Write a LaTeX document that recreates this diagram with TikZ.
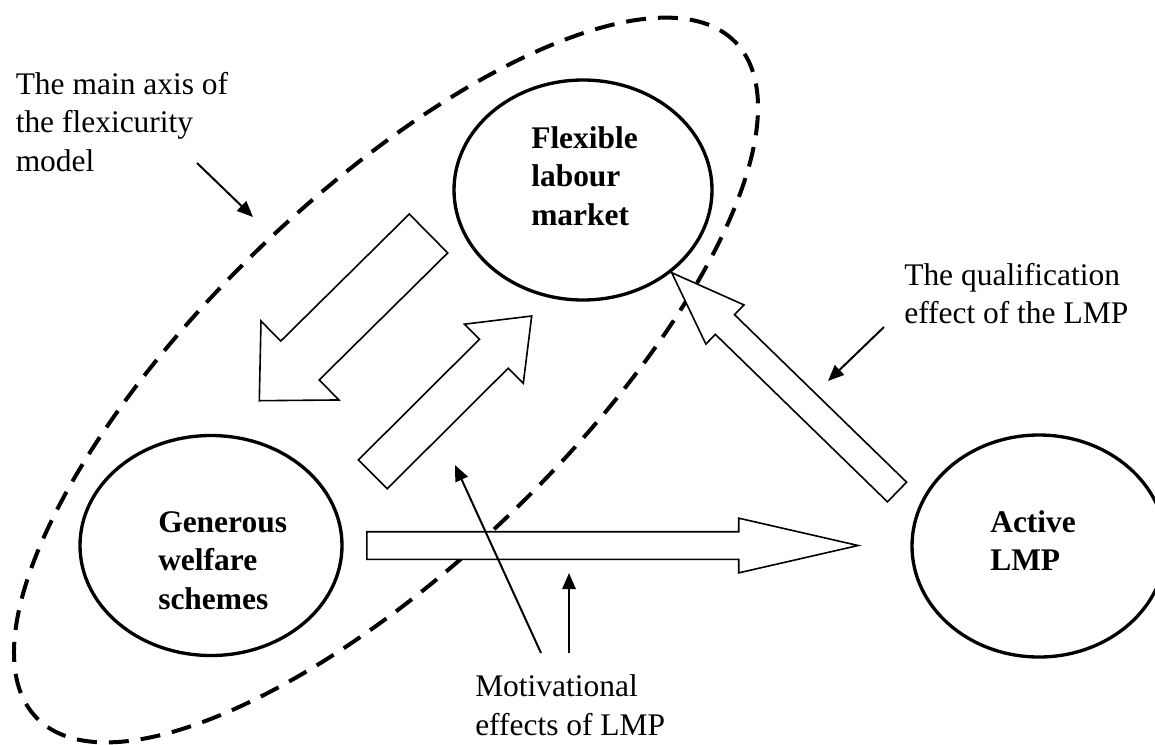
\documentclass[tikz,border=0pt]{standalone}
\usepackage{fontspec}
\setmainfont{Liberation Serif}
\usetikzlibrary{shapes.geometric,arrows.meta,calc}
\newcommand\drawblockarrow[5]{%
  \coordinate (#1h) at ($(#2)!#5!(#1)$);
  \draw[blockarr] ($(#1)!#3!90:(#2)$) -- ($(#1h)!#3!90:(#2)$) -- ($(#1h)!#4!90:(#2)$) -- (#2)
    -- ($(#1h)!#4!-90:(#2)$) -- ($(#1h)!#3!-90:(#2)$) -- ($(#1)!#3!-90:(#2)$) -- cycle;}
\begin{document}
\begin{tikzpicture}[x=0.75pt,y=-0.75pt,
  txt/.style={font=\fontsize{23.6pt}{29pt}\selectfont, inner sep=0pt, anchor=base west},
  boldtxt/.style={font=\fontsize{23.6pt}{29pt}\selectfont\bfseries, inner sep=0pt, anchor=base west},
  oval/.style={ellipse, draw, line width=2.5pt, fill=white, inner sep=0pt},
  axisline/.style={draw, line width=3pt, dash pattern=on 15pt off 9pt},
  blockarr/.style={draw, line width=1.2pt, fill=white, line join=miter},
  pointer/.style={draw, line width=1.5pt, -{Triangle[length=12pt,width=10pt]}}
]
\clip (0,0) rectangle (1155,744);
\fill[white] (0,0) rectangle (1155,744);

% main axis (dashed ellipse)
\draw[axisline, rotate around={44:(386,380)}] (386,380) ellipse [x radius=364.5pt, y radius=137pt];

% ellipses
\node[oval, minimum width=193.5pt, minimum height=165pt] (flex) at (583,190) {};
\node[oval, minimum width=196.5pt, minimum height=165pt] (gen) at (211,545.5) {};
\node[oval, minimum width=190.5pt, minimum height=166.5pt] (act) at (1039,546) {};

% block arrows
\coordinate (dlA) at (428.5,233.5); \coordinate (dlB) at (259.3,400.7);
\drawblockarrow{dlA}{dlB}{20.5pt}{41.6pt}{42.9pt}
\coordinate (urA) at (372.8,474.3); \coordinate (urB) at (531.7,316);
\drawblockarrow{urA}{urB}{15.3pt}{31.3pt}{40.1pt}
\coordinate (qA) at (897,492); \coordinate (qB) at (671.7,272.7);
\drawblockarrow{qA}{qB}{10.3pt}{20.5pt}{55.7pt}
\coordinate (hA) at (366.8,545.5); \coordinate (hB) at (858.1,545.5);
\drawblockarrow{hA}{hB}{10.35pt}{20.5pt}{89.5pt}

% texts
\node[boldtxt] (flext) at (531,148) {\begin{tabular}[t]{@{}l@{}}Flexible\\labour\\market\end{tabular}};
\node[boldtxt] (gent) at (158,532) {\begin{tabular}[t]{@{}l@{}}Generous\\welfare\\schemes\end{tabular}};
\node[boldtxt] (actt) at (990,532) {\begin{tabular}[t]{@{}l@{}}Active\\LMP\end{tabular}};
\node[txt] (axist) at (15.5,94) {\begin{tabular}[t]{@{}l@{}}The main axis of\\the flexicurity\\model\end{tabular}};
\node[txt] (qualt) at (904,285) {\begin{tabular}[t]{@{}l@{}}The qualification\\effect of the LMP\end{tabular}};
\node[txt] (mott) at (475,696.6) {\begin{tabular}[t]{@{}l@{}}Motivational\\effects of LMP\end{tabular}};

% pointers
\coordinate (axS) at (197,163); \coordinate (axE) at (253,217);
\draw[pointer] (axS) -- (axE);
\coordinate (quS) at (884,327); \coordinate (quE) at (828,381);
\draw[pointer] (quS) -- (quE);
\coordinate (m1S) at (541,653); \coordinate (m1E) at (455,465);
\draw[pointer] (m1S) -- (m1E);
\coordinate (m2S) at (569,653); \coordinate (m2E) at (569,573);
\draw[pointer] (m2S) -- (m2E);
\end{tikzpicture}
\end{document}
